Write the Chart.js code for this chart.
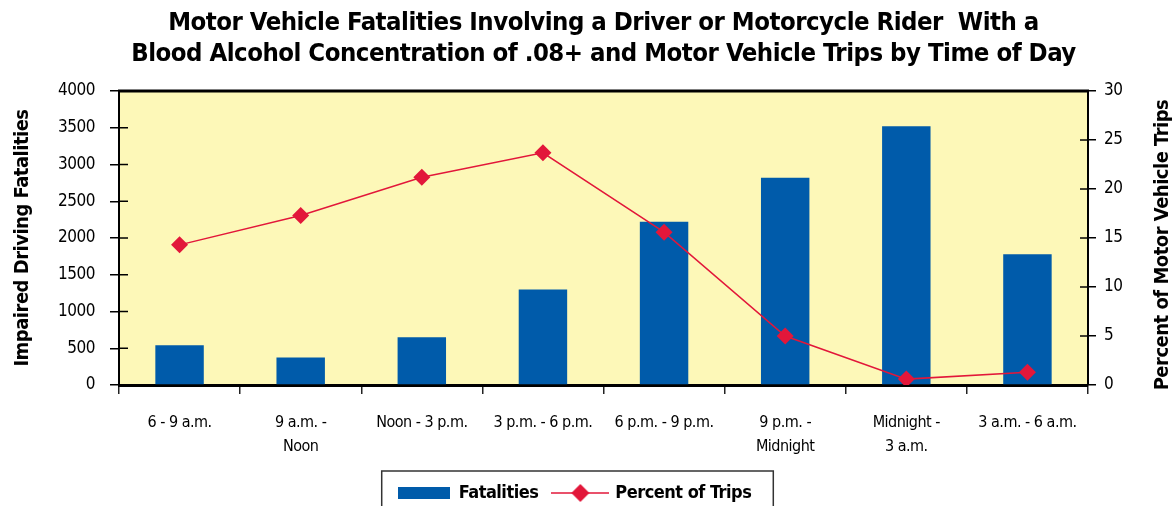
<!DOCTYPE html>
<html><head><meta charset="utf-8">
<script src="https://cdn.jsdelivr.net/npm/chart.js@4.4.0/dist/chart.umd.min.js"></script>
<style>html,body{margin:0;padding:0;background:#fff;overflow:hidden}#wrap{width:1173px;height:506px}</style>
</head><body><div id="wrap"><canvas id="c" width="1173" height="506"></canvas></div>
<script>
const titleLines = ['Motor Vehicle Fatalities Involving a Driver or Motorcycle Rider  With a', 'Blood Alcohol Concentration of .08+ and Motor Vehicle Trips by Time of Day'];
const categories = ['6 - 9 a.m.', ['9 a.m. -', 'Noon'], 'Noon - 3 p.m.', '3 p.m. - 6 p.m.', '6 p.m. - 9 p.m.', ['9 p.m. -', 'Midnight'], ['Midnight -', '3 a.m.'], '3 a.m. - 6 a.m.'];
const fatalities = [540, 375, 650, 1300, 2220, 2820, 3520, 1780];
const percentTrips = [14.3, 17.3, 21.2, 23.7, 15.6, 5.0, 0.6, 1.3];
const leftAxisTitle = 'Impaired Driving Fatalities';
const rightAxisTitle = 'Percent of Motor Vehicle Trips';
const seriesNames = ['Fatalities', 'Percent of Trips'];

const FAM = "'Liberation Sans Narrow','Arial Narrow','DejaVu Sans Condensed',sans-serif";
const BLUE = '#005BAA', RED = '#E2173A', YELLOW = '#FDF8B8';

function barIcon(){const c=document.createElement('canvas');c.width=52;c.height=12;const x=c.getContext('2d');x.fillStyle=BLUE;x.fillRect(0,0,52,12);return c;}
function lineIcon(){const c=document.createElement('canvas');c.width=58;c.height=20;const x=c.getContext('2d');
  x.strokeStyle=RED;x.lineWidth=1.5;x.beginPath();x.moveTo(0,10);x.lineTo(58,10);x.stroke();
  x.fillStyle=RED;x.beginPath();x.moveTo(29,1);x.lineTo(38,10);x.lineTo(29,19);x.lineTo(20,10);x.closePath();x.fill();return c;}

const tighten = {
  id:'tighten',
  beforeUpdate(chart){ if('letterSpacing' in chart.ctx) chart.ctx.letterSpacing='-0.5px'; },
  beforeDraw(chart){ if('letterSpacing' in chart.ctx) chart.ctx.letterSpacing='-0.5px'; }
};

const decor = {
  id:'decor',
  beforeDraw(chart){const {ctx,chartArea:a}=chart;ctx.save();ctx.fillStyle=YELLOW;ctx.fillRect(a.left,a.top,a.right-a.left,a.bottom-a.top);ctx.restore();},
  afterDraw(chart){
    const {ctx,chartArea:a}=chart;
    ctx.save();
    ctx.strokeStyle='#000';ctx.lineWidth=3;ctx.beginPath();ctx.moveTo(a.left-1,a.top);ctx.lineTo(a.right+1,a.top);ctx.stroke();
    ctx.lineWidth=1.5;
    const y=chart.scales.y, y1=chart.scales.y1;
    y.ticks.forEach((t,i)=>{const p=y.getPixelForTick(i);ctx.beginPath();ctx.moveTo(a.left,p);ctx.lineTo(a.left+9,p);ctx.stroke();});
    y1.ticks.forEach((t,i)=>{const p=y1.getPixelForTick(i);ctx.beginPath();ctx.moveTo(a.right-8,p);ctx.lineTo(a.right,p);ctx.stroke();});
    ctx.fillStyle='#000';ctx.font='bold 20px '+FAM;ctx.textAlign='center';ctx.textBaseline='middle';
    ctx.translate(1163,(a.top+a.bottom)/2+7);ctx.rotate(-Math.PI/2);ctx.fillText(rightAxisTitle,0,0);
    ctx.restore();
    const lg=chart.legend; if(lg&&lg.legendHitBoxes.length){
      const hb=lg.legendHitBoxes; const l=Math.min(...hb.map(h=>h.left)); const r=Math.max(...hb.map(h=>h.left+h.width));
      ctx.save();ctx.strokeStyle='#333';ctx.lineWidth=1.5;ctx.strokeRect(l-16,hb[0].top-13,r-l+38,60);ctx.restore();
    }
  }
};

new Chart(document.getElementById('c'),{
  data:{labels:categories,datasets:[
    {type:'line',label:seriesNames[1],data:percentTrips,yAxisID:'y1',order:0,borderColor:RED,backgroundColor:RED,borderWidth:1.5,pointStyle:'rectRot',pointRadius:8.5,pointBackgroundColor:RED,pointBorderWidth:0,tension:0},
    {type:'bar',label:seriesNames[0],data:fatalities,yAxisID:'y',order:1,backgroundColor:BLUE,categoryPercentage:1,barPercentage:0.4}
  ]},
  options:{
    responsive:false,animation:false,devicePixelRatio:1,
    layout:{padding:{left:0,right:24,top:0,bottom:0}},
    plugins:{
      tooltip:{enabled:false},
      title:{display:true,fullSize:false,text:titleLines,color:'#000',font:{family:FAM,size:25.5,weight:'bold',lineHeight:1.216},padding:{top:7.5,bottom:21.5}},
      legend:{position:'bottom',maxHeight:38,labels:{usePointStyle:true,pointStyleWidth:52,padding:16,color:'#000',font:{family:FAM,size:18,weight:'bold'},
        generateLabels:()=>[
          {text:seriesNames[0],pointStyle:barIcon(),fillStyle:BLUE,strokeStyle:'rgba(0,0,0,0)',lineWidth:0,hidden:false,datasetIndex:1,fontColor:'#000'},
          {text:seriesNames[1],pointStyle:lineIcon(),fillStyle:RED,strokeStyle:'rgba(0,0,0,0)',lineWidth:0,hidden:false,datasetIndex:0,fontColor:'#000'}
        ]}}
    },
    scales:{
      x:{type:'category',offset:true,grid:{offset:true,drawOnChartArea:false,tickLength:9,color:'#222',lineWidth:1.5},border:{color:'#000',width:3},
        ticks:{color:'#000',font:{family:FAM,size:16,lineHeight:1.55},padding:16,maxRotation:0,autoSkip:false},
        afterFit:s=>{s.height=83;}},
      y:{position:'left',min:0,max:4000,grid:{drawOnChartArea:false,tickLength:9,color:'#000',lineWidth:1.5},border:{color:'#000',width:2},
        ticks:{stepSize:500,color:'#000',font:{family:FAM,size:17},padding:15,callback:v=>String(v)},
        title:{display:true,text:leftAxisTitle,color:'#000',font:{family:FAM,size:20,weight:'bold'},padding:{top:11,bottom:0}},
        afterFit:s=>{s.width=119;}},
      y1:{position:'right',min:0,max:30,grid:{drawOnChartArea:false,tickLength:8,color:'#000',lineWidth:1.5},border:{color:'#000',width:2},
        ticks:{stepSize:5,color:'#000',font:{family:FAM,size:17},padding:8,callback:v=>String(v)},
        afterFit:s=>{s.width=61;}}
    }
  },
  plugins:[tighten,decor]
});
</script></body></html>
